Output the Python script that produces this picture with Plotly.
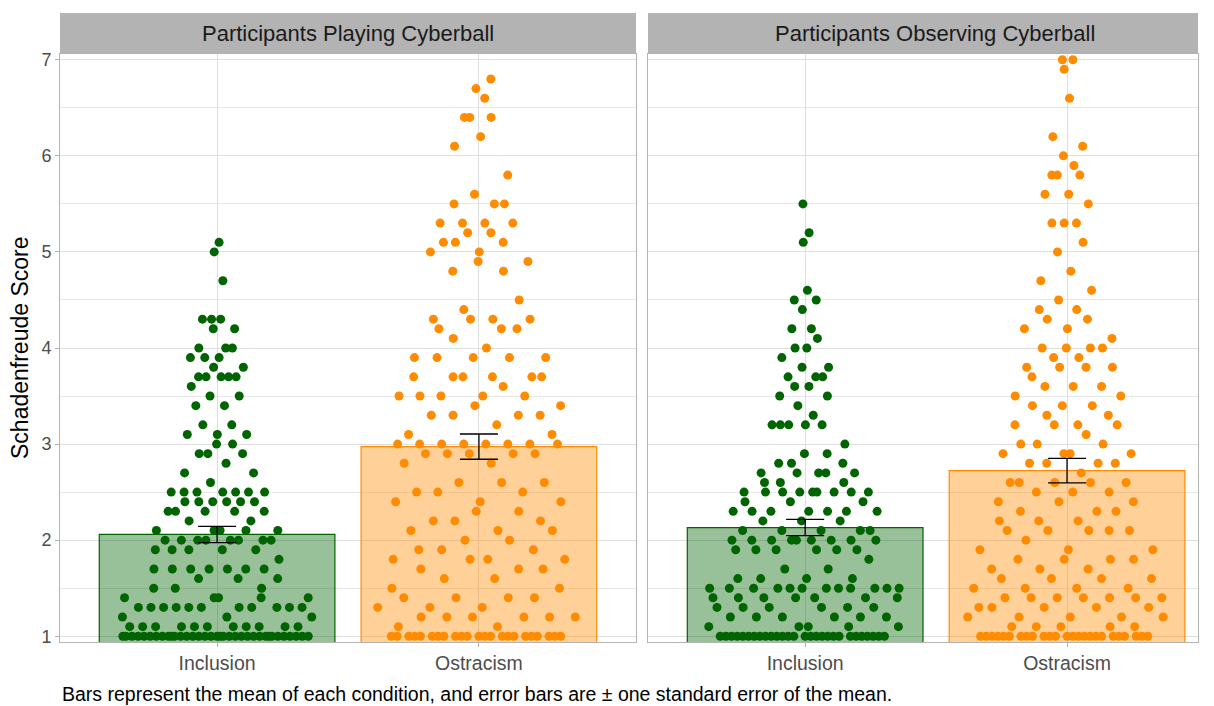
import numpy as np
import plotly.graph_objects as go

# Schadenfreude scores (1-7 scale) tallied per distinct score value
PLAY_INCL_SCORES = [5.1, 5.0, 4.7, 4.3, 4.2, 4.0, 3.9, 3.8, 3.7, 3.6, 3.5, 3.4, 3.2, 3.1, 3.0, 2.9, 2.8, 2.7,
                    2.6, 2.5, 2.4, 2.3, 2.2, 2.1, 2.0, 1.9, 1.8, 1.7, 1.6, 1.5, 1.4, 1.3, 1.2, 1.1, 1.0]
PLAY_INCL_COUNTS = [1, 1, 1, 3, 2, 3, 3, 2, 5, 1, 2, 2, 2, 3, 2, 3, 1, 2,
                    1, 7, 6, 5, 2, 5, 8, 5, 1, 7, 3, 3, 5, 11, 3, 11, 35]

PLAY_OSTR_SCORES = [6.8, 6.7, 6.6, 6.4, 6.2, 6.1, 5.8, 5.6, 5.5, 5.3, 5.2, 5.1, 5.0, 4.9, 4.8, 4.5, 4.4, 4.3,
                    4.2, 4.1, 4.0, 3.9, 3.7, 3.6, 3.5, 3.4, 3.3, 3.2, 3.1, 3.0, 2.9, 2.8, 2.6, 2.5, 2.4,
                    2.3, 2.2, 2.1, 2.0, 1.9, 1.8, 1.7, 1.6, 1.5, 1.4, 1.3, 1.2, 1.1, 1.0]
PLAY_OSTR_COUNTS = [1, 1, 1, 3, 1, 1, 1, 1, 3, 4, 2, 3, 2, 2, 2, 1, 1, 4,
                    3, 1, 1, 5, 6, 1, 5, 2, 4, 1, 2, 8, 5, 2, 3, 3, 3,
                    2, 3, 3, 2, 3, 4, 3, 2, 2, 4, 3, 6, 2, 23]

OBS_INCL_SCORES = [5.5, 5.2, 5.1, 4.6, 4.5, 4.4, 4.2, 4.1, 4.0, 3.9, 3.8, 3.7, 3.6, 3.5, 3.4, 3.3, 3.2, 3.0,
                   2.9, 2.8, 2.7, 2.6, 2.5, 2.4, 2.3, 2.2, 2.1, 2.0, 1.9, 1.8, 1.7, 1.6, 1.5, 1.4, 1.3,
                   1.2, 1.1, 1.0]
OBS_INCL_COUNTS = [1, 1, 1, 1, 2, 1, 2, 1, 2, 1, 2, 3, 2, 2, 1, 1, 5, 1,
                   2, 3, 5, 3, 9, 3, 7, 3, 5, 9, 6, 1, 2, 4, 12, 7, 6,
                   6, 5, 28]

OBS_OSTR_SCORES = [7.0, 6.9, 6.6, 6.2, 6.1, 6.0, 5.9, 5.8, 5.6, 5.5, 5.3, 5.1, 5.0, 4.8, 4.7, 4.6, 4.5, 4.4,
                   4.3, 4.2, 4.1, 4.0, 3.9, 3.8, 3.7, 3.6, 3.5, 3.4, 3.3, 3.2, 3.1, 3.0, 2.9, 2.8, 2.7,
                   2.6, 2.5, 2.4, 2.3, 2.2, 2.1, 2.0, 1.9, 1.8, 1.7, 1.6, 1.5, 1.4, 1.3, 1.2, 1.1, 1.0]
OBS_OSTR_COUNTS = [2, 1, 1, 1, 1, 1, 1, 3, 2, 1, 3, 1, 1, 1, 1, 1, 1, 2,
                   2, 2, 1, 4, 2, 4, 1, 3, 2, 3, 2, 4, 1, 3, 4, 4, 1,
                   5, 3, 3, 3, 3, 5, 1, 3, 4, 3, 4, 4, 7, 5, 5, 5, 25]

CONDITIONS = ["Inclusion", "Ostracism"]
PANELS = ["Participants Playing Cyberball", "Participants Observing Cyberball"]
Y_TICKS = [1, 2, 3, 4, 5, 6, 7]
CAPTION = "Bars represent the mean of each condition, and error bars are \u00b1 one standard error of the mean."

GROUPS = [
    [(PLAY_INCL_SCORES, PLAY_INCL_COUNTS), (PLAY_OSTR_SCORES, PLAY_OSTR_COUNTS)],
    [(OBS_INCL_SCORES, OBS_INCL_COUNTS), (OBS_OSTR_SCORES, OBS_OSTR_COUNTS)],
]

DOT_COLORS = ["#006400", "#FF8C00"]
BAR_FILLS = ["rgba(0,100,0,0.4)", "rgba(255,140,0,0.4)"]
FONT = "Liberation Sans, Arial, sans-serif"


def expand(scores, counts):
    return np.repeat(np.asarray(scores, float), np.asarray(counts, int))


def van_der_corput(n, base=2):
    seq = np.empty(n)
    for i in range(1, n + 1):
        q, denom, v = i, 1.0, 0.0
        while q:
            denom *= base
            q, r = divmod(q, base)
            v += r / denom
        seq[i - 1] = v
    return seq


def quasirandom_offsets(y, width=0.4):
    """Quasirandom (van der Corput) horizontal spread scaled by a Gaussian KDE."""
    n = len(y)
    sd = y.std(ddof=1)
    q75, q25 = np.percentile(y, [75, 25])
    spread = min(sd, (q75 - q25) / 1.34) if q75 > q25 else sd
    bw = 0.9 * spread * n ** -0.2
    grid = np.linspace(y.min() - 3 * bw, y.max() + 3 * bw, 512)
    dens = np.exp(-0.5 * ((grid[:, None] - y[None, :]) / bw) ** 2).sum(axis=1)
    dens /= dens.max()
    d_at = np.interp(y, grid, dens)
    order = np.argsort(y, kind="stable")
    rank = np.empty(n, int)
    rank[order] = np.arange(n)
    vdc = van_der_corput(n)[rank]
    return (vdc - 0.5) * 2 * d_at * width


fig = go.Figure()

for p, panel in enumerate(GROUPS):
    xa = "x" if p == 0 else "x2"
    ya = "y" if p == 0 else "y2"
    means, ses = [], []
    vals_list = []
    for c, (scores, counts) in enumerate(panel):
        vals = expand(scores, counts)
        vals_list.append(vals)
        means.append(vals.mean())
        ses.append(vals.std(ddof=1) / np.sqrt(len(vals)))

    # mean bars
    for c in range(2):
        fig.add_trace(go.Bar(
            x=[c + 1], y=[means[c]], width=0.9, xaxis=xa, yaxis=ya,
            marker=dict(color=BAR_FILLS[c], line=dict(color=DOT_COLORS[c], width=1.2)),
            showlegend=False, hoverinfo="skip",
        ))
    # individual scores
    for c in range(2):
        vals = vals_list[c]
        fig.add_trace(go.Scatter(
            x=(c + 1) + quasirandom_offsets(vals), y=vals, mode="markers",
            xaxis=xa, yaxis=ya,
            marker=dict(color=DOT_COLORS[c], size=9, line=dict(width=0)),
            showlegend=False,
        ))
    # standard error bars
    fig.add_trace(go.Scatter(
        x=[1, 2], y=means, mode="markers", xaxis=xa, yaxis=ya,
        marker=dict(size=1, color="rgba(0,0,0,0)"),
        error_y=dict(type="data", array=ses, visible=True, color="black",
                     thickness=1.3, width=19),
        showlegend=False, hoverinfo="skip",
    ))

W, H = 1214, 706
ML, MR, MT, MB = 60, 16, 54, 64
PW = W - ML - MR
PH = H - MT - MB
d1_end = 576 / PW
d2_start = 588 / PW

axis_common = dict(
    showline=True, mirror=True, linecolor="#B3B3B3", linewidth=1,
    zeroline=False, gridcolor="#DEDEDE", gridwidth=1,
)

fig.update_layout(
    width=W, height=H,
    margin=dict(l=ML, r=MR, t=MT, b=MB),
    plot_bgcolor="white", paper_bgcolor="white",
    barmode="overlay",
    font=dict(family=FONT, color="#4D4D4D"),
    xaxis=dict(domain=[0, d1_end], range=[0.4, 2.6], tickvals=[1, 2], ticktext=CONDITIONS,
               ticks="outside", ticklen=4, tickcolor="#B3B3B3", tickfont=dict(size=19.5, color="#4D4D4D"),
               anchor="y", **axis_common),
    xaxis2=dict(domain=[d2_start, 1], range=[0.4, 2.5], tickvals=[1, 2], ticktext=CONDITIONS,
                ticks="outside", ticklen=4, tickcolor="#B3B3B3", tickfont=dict(size=19.5, color="#4D4D4D"),
                anchor="y2", **axis_common),
    yaxis=dict(range=[0.94, 7.06], tickvals=Y_TICKS, ticks="outside", ticklen=4, tickcolor="#B3B3B3",
               tickfont=dict(size=18, color="#4D4D4D"), anchor="x",
               minor=dict(dtick=0.5, tick0=0.5, showgrid=True, gridcolor="#E8E8E8", gridwidth=0.6),
               **axis_common),
    yaxis2=dict(range=[0.94, 7.06], tickvals=Y_TICKS, showticklabels=False, ticks="", anchor="x2",
                matches="y",
                minor=dict(dtick=0.5, tick0=0.5, showgrid=True, gridcolor="#E8E8E8", gridwidth=0.6),
                **axis_common),
)

# facet strips
strip_h = 41 / PH
for dom, label, cx in [((0, d1_end), PANELS[0], d1_end / 2), ((d2_start, 1), PANELS[1], 875 / PW)]:
    fig.add_shape(type="rect", xref="paper", yref="paper", x0=dom[0], x1=dom[1], y0=1, y1=1 + strip_h,
                  fillcolor="#B3B3B3", line=dict(width=0), layer="below")
    fig.add_annotation(xref="paper", yref="paper", x=cx, y=1 + strip_h / 2, text=label, showarrow=False,
                       xanchor="center", yanchor="middle", font=dict(size=22, color="#1A1A1A", family=FONT))

# axis title
fig.add_annotation(xref="paper", yref="paper", x=-40 / PW, y=0.5, text="Schadenfreude Score",
                   textangle=-90, showarrow=False, xanchor="center", yanchor="middle",
                   font=dict(size=23, color="black", family=FONT))

# caption
fig.add_annotation(xref="paper", yref="paper", x=0, y=-(694 - (H - MB)) / PH, text=CAPTION,
                   showarrow=False, xanchor="left", yanchor="middle",
                   font=dict(size=19.5, color="black", family=FONT))

fig.write_html("out.html")
